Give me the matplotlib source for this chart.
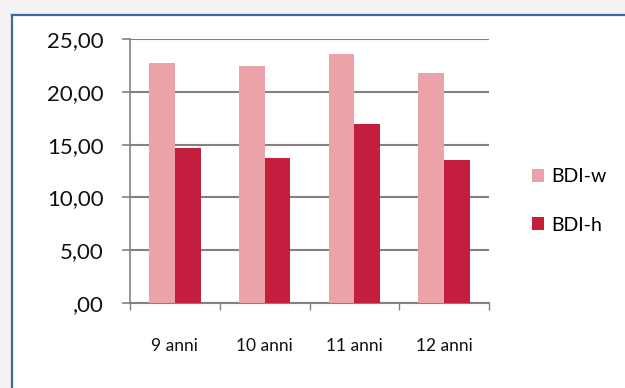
import matplotlib
matplotlib.use("Agg")
import matplotlib.pyplot as plt
from matplotlib.lines import Line2D
from matplotlib.patches import Rectangle
import numpy as np

categories = ["9 anni", "10 anni", "11 anni", "12 anni"]
bdi_w = [22.70, 22.40, 23.58, 21.80]
bdi_h = [14.65, 13.70, 16.92, 13.55]
series_names = ["BDI-w", "BDI-h"]
y_ticks = [0, 5, 10, 15, 20, 25]
y_tick_labels = [",00", "5,00", "10,00", "15,00", "20,00", "25,00"]

plt.rcParams["font.family"] = ["Lato", "DejaVu Sans"]

W, H = 625, 388
fig = plt.figure(figsize=(W / 100, H / 100), dpi=100)
fig.patch.set_facecolor("#f4f2f2")

# white chart frame with blue top/left border
fig.add_artist(Rectangle((12 / W, 0), 1, 1 - 15 / H, transform=fig.transFigure,
                         facecolor="white", edgecolor="none", zorder=0))
fig.add_artist(Line2D([12 / W, 1], [1 - 15 / H, 1 - 15 / H], transform=fig.transFigure,
                      color="#3a6aa0", lw=1.6))
fig.add_artist(Line2D([12 / W, 12 / W], [0, 1 - 15 / H], transform=fig.transFigure,
                      color="#3a6aa0", lw=1.6))

ax = fig.add_axes([130 / W, 1 - 303 / H, (489 - 130) / W, (303 - 39) / H])
ax.set_facecolor("none")

x = np.arange(len(categories))
bw = 1 / 3.5
light = "#e9a3a9"
dark = "#c41e3f"
ax.bar(x - bw / 2, bdi_w, width=bw, color=light, label=series_names[0], zorder=3)
ax.bar(x + bw / 2, bdi_h, width=bw, color=dark, label=series_names[1], zorder=3)

ax.set_xlim(-0.5, len(categories) - 0.5)
ax.set_ylim(0, 25)
ax.set_yticks(y_ticks)
ax.set_yticklabels(y_tick_labels, fontsize=16, color="#111111")
ax.yaxis.grid(True, color="#8a7f7f", lw=1.5, zorder=1)
ax.set_axisbelow(True)

ax.set_xticks(x)
ax.set_xticklabels(categories, fontsize=12.5, color="#111111")
ax.set_xticks(np.arange(len(categories) + 1) - 0.5, minor=True)
ax.tick_params(axis="x", which="major", length=0, pad=25)
ax.tick_params(axis="x", which="minor", length=5, color="#8a7f7f", width=1)
ax.tick_params(axis="y", length=6, color="#8a7f7f", width=1.2, pad=13)

for s in ["top", "right"]:
    ax.spines[s].set_visible(False)
ax.spines["left"].set_color("#8a7f7f")
ax.spines["bottom"].set_color("#8a7f7f")
ax.spines["left"].set_linewidth(1.2)
ax.spines["bottom"].set_linewidth(1.5)

ax.legend(loc="center left", bbox_to_anchor=(514 / W, 1 - 201 / H),
          bbox_transform=fig.transFigure, frameon=False, fontsize=14,
          handlelength=0.65, handleheight=0.65, handletextpad=0.35, labelspacing=1.6)

fig.savefig("out.png", dpi=100, facecolor=fig.get_facecolor())
